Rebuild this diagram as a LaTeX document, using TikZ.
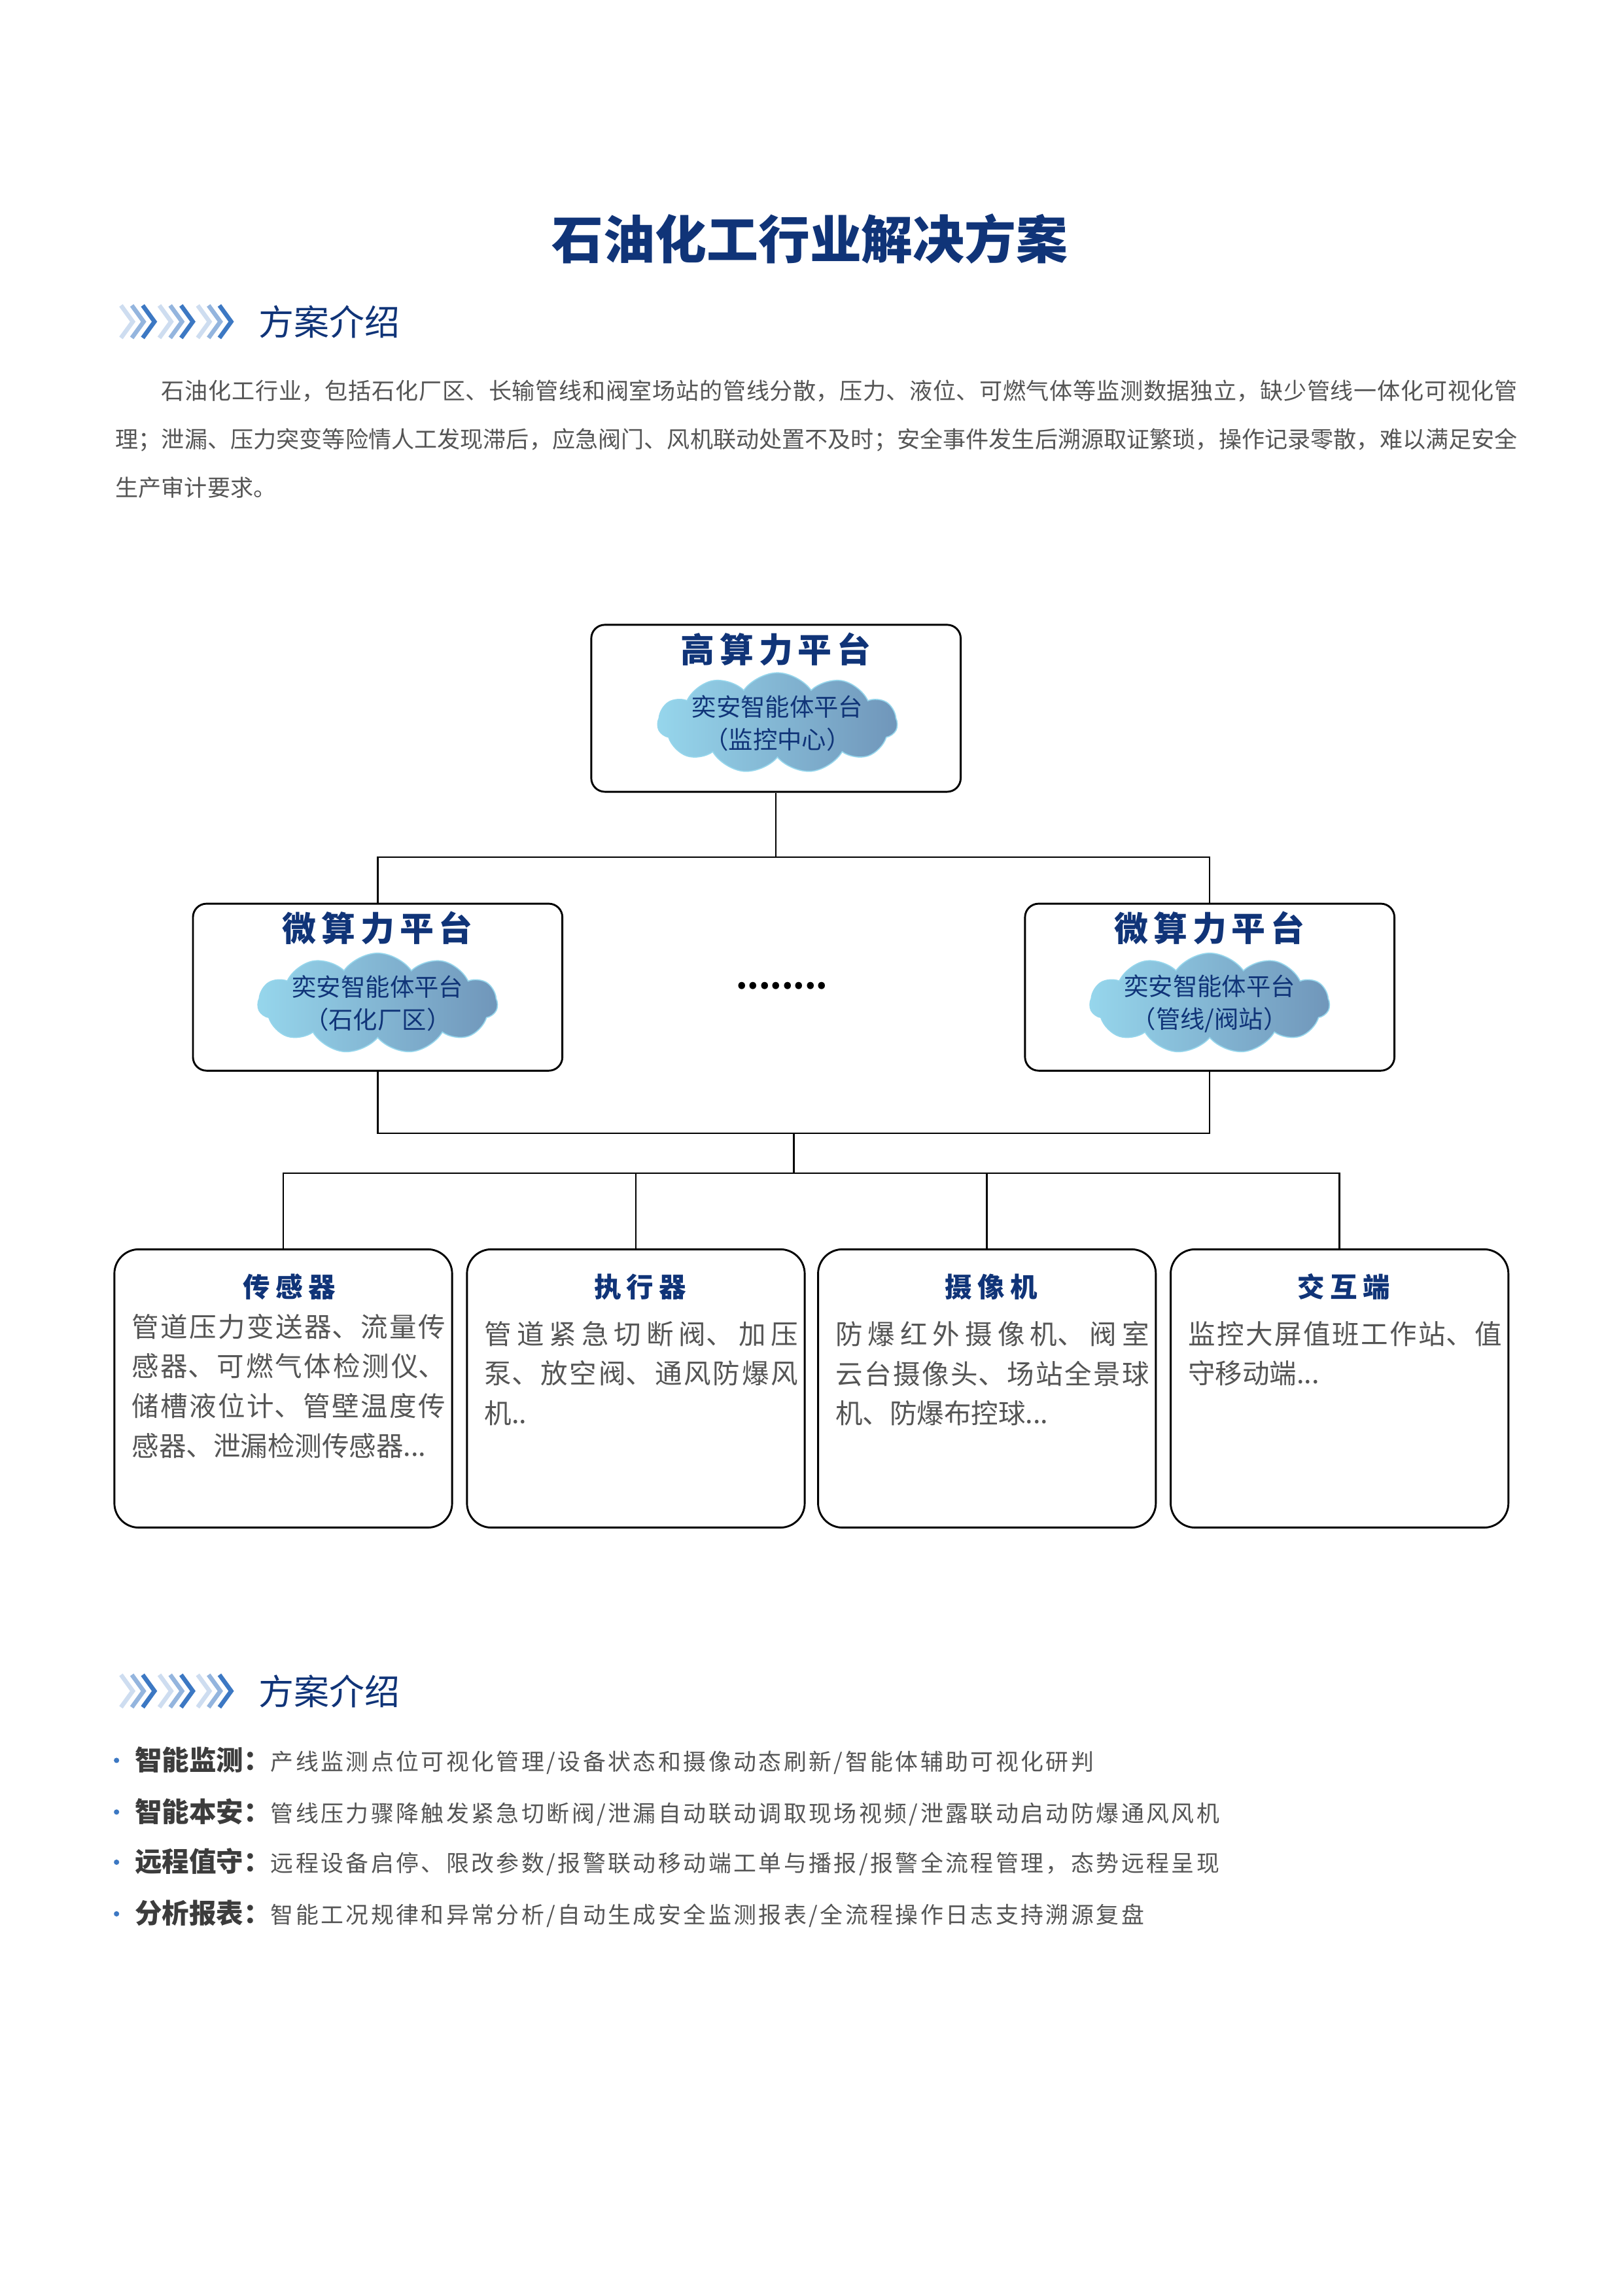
\documentclass[tikz,border=0pt]{standalone}
\usepackage{fontspec}
\setmainfont{Noto Sans CJK SC}
\usepackage{xcolor}
\definecolor{navy-800}{RGB}{16,52,120}
\definecolor{gray-700}{RGB}{85,85,85}
\definecolor{gray-800}{RGB}{60,60,60}
\definecolor{sky-300}{RGB}{150,214,236}
\definecolor{sky-600}{RGB}{112,150,186}
\definecolor{blue-500}{RGB}{60,120,195}
\usetikzlibrary{shapes.symbols,positioning}
\XeTeXlinebreaklocale "zh"
\XeTeXlinebreakskip=0pt plus 1pt

\tikzset{
    box/.style={draw=black, line width=0.7pt, fill=white, rounded corners=5pt, minimum width=4.78cm, minimum height=2.16cm},
    card/.style={draw=black, line width=0.7pt, fill=white, rounded corners=9pt, minimum width=4.37cm, minimum height=3.6cm, anchor=north},
    cloudy/.style={cloud, cloud puffs=11, cloud puff arc=110, aspect=2.5, draw=sky-300, left color=sky-300, right color=sky-600, minimum width=3.1cm, minimum height=1.3cm, inner sep=0pt},
    head/.style={font=\fontsize{10}{12}\selectfont\bfseries, text=navy-800},
    phead/.style={font=\fontsize{12.5}{15}\selectfont\bfseries, text=navy-800},
    body/.style={font=\fontsize{10}{14.6}\selectfont, text=gray-700, text width=4.06cm, align=justify, anchor=north west, inner sep=0pt},
    link/.style={line width=0.6pt, black}
}
\newcommand{\chevs}[1]{%
  \foreach \k/\o in {0/0.25,4/0.55,8/1} {
    \draw[blue-500, opacity=\o, line width=1.6pt] ([xshift=\k]#1) -- ++(8,11) -- ++(-8,11);
  }
}

\begin{document}
\begin{tikzpicture}[x=0.01909cm, y=-0.01909cm]

\useasboundingbox (0,0) rectangle (1100,1556);

% Title
\node[font=\fontsize{19}{22}\selectfont\bfseries, text=navy-800] (title) at (549,162) {石油化工行业解决方案};

% Section 1 header
\foreach \g in {82,108,134} { \chevs{\g,207} }
\node[font=\fontsize{13}{15}\selectfont, text=navy-800, anchor=west] (sec1) at (169,218) {方案介绍};

% Intro paragraph
\node[font=\fontsize{8.45}{17.9}\selectfont, text=gray-700, text width=18.14cm, align=justify, anchor=north west, inner sep=0pt] (intro) at (78,257) {\hspace*{2em}石油化工行业，包括石化厂区、长输管线和阀室场站的管线分散，压力、液位、可燃气体等监测数据独立，缺少管线一体化可视化管理；泄漏、压力突变等险情人工发现滞后，应急阀门、风机联动处置不及时；安全事件发生后溯源取证繁琐，操作记录零散，难以满足安全生产审计要求。};

% Platform boxes
\node[box] (top) at (526,480) {};
\node[phead] (topT) at (526,440) {高\hspace{0.15em}算\hspace{0.15em}力\hspace{0.15em}平\hspace{0.15em}台};
\node[cloudy] (topC) at (527,490) {};
\node[font=\fontsize{9}{12}\selectfont, text=navy-800, align=center] at (topC) {奕安智能体平台\\（监控中心）};

\node[box] (left) at (256,669) {};
\node[phead] (leftT) at (256,629) {微\hspace{0.15em}算\hspace{0.15em}力\hspace{0.15em}平\hspace{0.15em}台};
\node[cloudy] (leftC) at (256,680) {};
\node[font=\fontsize{9}{12}\selectfont, text=navy-800, align=center] at (leftC) {奕安智能体平台\\（石化厂区）};

\node[box] (right) at (820,669) {};
\node[phead] (rightT) at (820,629) {微\hspace{0.15em}算\hspace{0.15em}力\hspace{0.15em}平\hspace{0.15em}台};
\node[cloudy] (rightC) at (820,680) {};
\node[font=\fontsize{9}{12}\selectfont, text=navy-800, align=center] at (rightC) {奕安智能体平台\\（管线/阀站）};

\node[font=\fontsize{12}{12}\selectfont\bfseries] (dots) at (530,668) {........};

% Connectors
\coordinate (j1) at (526,581);
\draw[link] (top.south) -- (j1);
\draw[link] (left.north) |- (j1) -| (right.north);
\coordinate (j2) at (538,768);
\coordinate (j3) at (538,795);
\draw[link] (left.south) |- (j2) -| (right.south);
\draw[link] (j2) -- (j3);

% Device cards
\node[card] (sens) at (192,846) {};
\node[card] (act) at (431,846) {};
\node[card] (cam) at (669,846) {};
\node[card] (term) at (908,846) {};
\draw[link] (sens.north) |- (j3) -| (term.north);
\draw[link] (act.north) -- (act.north |- j3);
\draw[link] (cam.north) -- (cam.north |- j3);

\node[head] at (196,872) {传\hspace{0.2em}感\hspace{0.2em}器};
\node[head] at (434,872) {执\hspace{0.2em}行\hspace{0.2em}器};
\node[head] at (672,872) {摄\hspace{0.2em}像\hspace{0.2em}机};
\node[head] at (911,872) {交\hspace{0.2em}互\hspace{0.2em}端};

\node[body] (sensB) at (89,890) {管道压力变送器、流量传感器、可燃气体检测仪、储槽液位计、管壁温度传感器、泄漏检测传感器...};
\node[body] (actB) at (328,895) {管道紧急切断阀、加压泵、放空阀、通风防爆风机..};
\node[body] (camB) at (566,895) {防爆红外摄像机、阀室云台摄像头、场站全景球机、防爆布控球...};
\node[body] (termB) at (805,895) {监控大屏值班工作站、值守移动端...};

% Section 2 header
\foreach \g in {82,108,134} { \chevs{\g,1135} }
\node[font=\fontsize{13}{15}\selectfont, text=navy-800, anchor=west] (sec2) at (169,1146) {方案介绍};

% Feature list
\foreach \yy/\lab/\txt in {
  1193/{智能监测：}/{产线监测点位可视化管理/设备状态和摄像动态刷新/智能体辅助可视化研判},
  1228/{智能本安：}/{管线压力骤降触发紧急切断阀/泄漏自动联动调取现场视频/泄露联动启动防爆通风风机},
  1262/{远程值守：}/{远程设备启停、限改参数/报警联动移动端工单与播报/报警全流程管理，态势远程呈现},
  1297/{分析报表：}/{智能工况规律和异常分析/自动生成安全监测报表/全流程操作日志支持溯源复盘}} {
  \fill[blue-500] (79,\yy) circle (1.8);
  \node[anchor=west, font=\fontsize{8.4}{10}\selectfont, text=gray-700, inner sep=0pt] at (91,\yy) {{\fontsize{10}{10}\selectfont\bfseries\color{gray-800}\lab}\addfontfeature{LetterSpace=10}\txt};
}

\end{tikzpicture}
\end{document}
